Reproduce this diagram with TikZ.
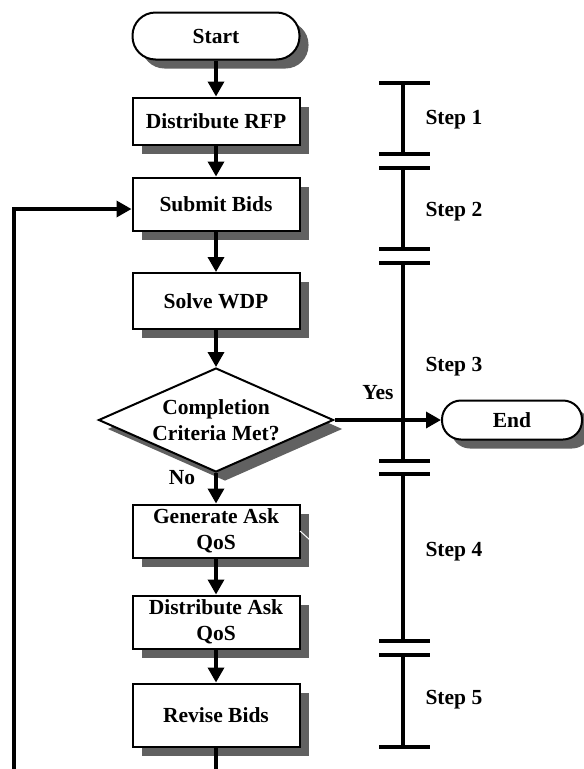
\documentclass[tikz,border=0pt]{standalone}
\usepackage{fontspec}
\setmainfont{Liberation Serif}
\usetikzlibrary{shapes.geometric,shadows,arrows.meta}
\begin{document}
\begin{tikzpicture}[x=1pt,y=-1pt,
  font=\fontsize{21.5}{26}\selectfont\bfseries,
  shade/.style={drop shadow={shadow xshift=9pt,shadow yshift=-9pt,fill=black!62,opacity=1}},
  proc/.style={draw,line width=2pt,fill=white,minimum width=167pt,inner sep=0pt,align=center,shade},
  term/.style={proc,rounded corners=23pt},
  dec/.style={draw,diamond,aspect=2.26,line width=2pt,fill=white,minimum width=235pt,minimum height=104pt,inner sep=0pt,align=center,shade},
  flow/.style={line width=3.4pt,-{Triangle[length=15pt,width=16pt]}},
  plain/.style={line width=3.4pt},
  bar/.style={line width=3.6pt},
  lbl/.style={anchor=west}]
\useasboundingbox (0,0) rectangle (584,769);

% process chain
\node[term,minimum height=47pt] (start) at (216,36) {Start};
\node[proc,minimum height=47pt] (rfp) at (216,121) {Distribute RFP};
\node[proc,minimum height=53pt] (submit) at (216,204) {Submit Bids};
\node[proc,minimum height=56pt] (wdp) at (216,301) {Solve WDP};
\node[dec] (crit) at (216,420) {Completion\\Criteria Met?};
\node[term,minimum width=140pt,minimum height=39pt,rounded corners=19pt] (end) at (512,420) {End};
\node[proc,minimum height=53pt] (gen) at (216,531) {Generate Ask\\QoS};
\node[proc,minimum height=53pt] (dist) at (216,622) {Distribute Ask\\QoS};
\node[proc,minimum height=63pt] (rev) at (216,715) {Revise Bids};

% small light mark on the shadow
\draw[white,line width=1pt] (300,531) -- (310,540);

% step brackets
\foreach \a/\b in {83/154,168/249,263/461,474/641,655/747} {
  \draw[bar] (403,\a) -- (403,\b);
  \draw[bar] (379,\a) -- (430,\a);
  \draw[bar] (379,\b) -- (430,\b);
}
\node[lbl] (s1) at (422,120) {Step 1};
\node[lbl] (s2) at (422,212) {Step 2};
\node[lbl] (s3) at (422,367) {Step 3};
\node[lbl] (s4) at (422,552) {Step 4};
\node[lbl] (s5) at (422,700) {Step 5};

% connectors
\draw[flow] (start) -- (rfp);
\draw[flow] (rfp) -- (submit);
\draw[flow] (submit) -- (wdp);
\draw[flow] (wdp) -- (crit);
\draw[flow] (crit.east) -- (end.west);
\draw[flow] (crit.south) -- (gen.north);
\draw[flow] (gen) -- (dist);
\draw[flow] (dist) -- (rev);

\coordinate (revout) at (216,769);
\coordinate (loopin) at (14,769);
\draw[plain] (rev) -- (revout);
\draw[flow] (loopin) |- ([yshift=-5pt]submit.west);

\node (yes) at (378,393) {Yes};
\node (no) at (182,478) {No};
\end{tikzpicture}
\end{document}
